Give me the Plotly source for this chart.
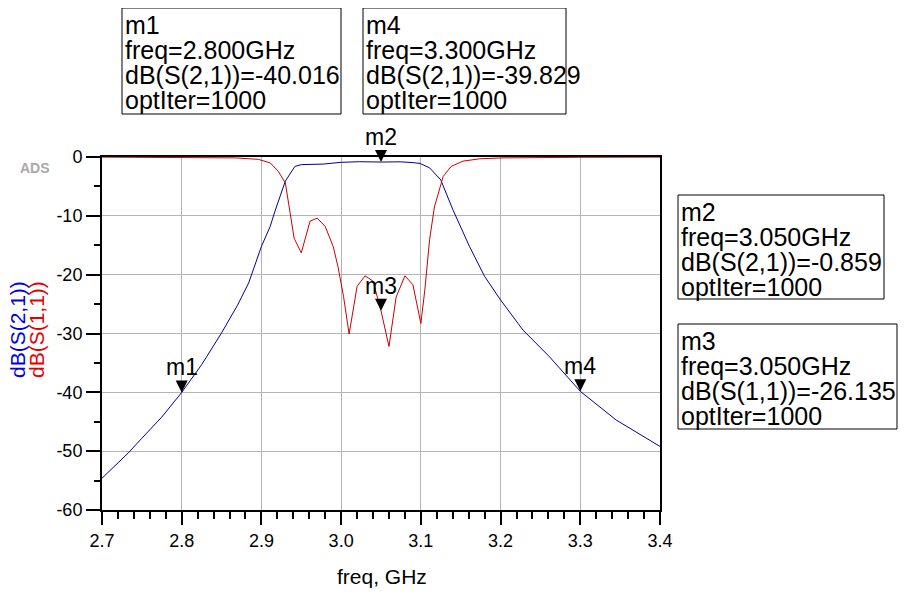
import plotly.graph_objects as go

# ---------------- data ----------------
freq_s21 = [2.700, 2.733, 2.750, 2.775, 2.800, 2.825, 2.850, 2.870, 2.884, 2.900, 2.911, 2.917,
            2.930, 2.942, 2.950, 2.978, 3.000, 3.023, 3.050, 3.074, 3.090, 3.099, 3.111,
            3.125, 3.140, 3.161, 3.180, 3.200, 3.228, 3.261, 3.300, 3.345, 3.400]
s21_db = [-54.6, -50.3, -47.8, -44.2, -40.016, -35.3, -29.9, -25.2, -21.4, -15.2, -11.8, -9.2,
          -4.1, -1.6, -1.3, -1.2, -0.9, -0.8, -0.859, -0.82, -0.95, -1.1, -1.85,
          -3.9, -8.9, -15.2, -20.3, -24.3, -29.4, -33.9, -39.829, -44.7, -49.2]

freq_s11 = [2.700, 2.800, 2.850, 2.867, 2.896, 2.911, 2.921, 2.930, 2.936, 2.941, 2.950,
            2.961, 2.970, 2.980, 2.990, 2.996, 3.003, 3.010, 3.020, 3.030, 3.040, 3.050,
            3.060, 3.069, 3.080, 3.090, 3.100, 3.105, 3.111, 3.117, 3.124, 3.128, 3.138,
            3.153, 3.174, 3.203, 3.300, 3.400]
s11_db = [-0.02, -0.05, -0.1, -0.15, -0.4, -1.0, -2.4, -4.4, -9.5, -13.8, -16.3,
          -10.9, -10.4, -11.8, -15.2, -18.6, -23.7, -30.1, -22.0, -20.2, -21.1, -26.135,
          -32.2, -23.8, -20.2, -21.7, -28.3, -22.6, -14.0, -8.5, -5.2, -3.3, -1.6,
          -0.7, -0.3, -0.15, -0.05, -0.02]

x_tick_vals = [2.7, 2.8, 2.9, 3.0, 3.1, 3.2, 3.3, 3.4]
x_tick_text = ["2.7", "2.8", "2.9", "3.0", "3.1", "3.2", "3.3", "3.4"]
y_tick_vals = [0, -10, -20, -30, -40, -50, -60]
y_tick_text = ["0", "-10", "-20", "-30", "-40", "-50", "-60"]

marker_names = ["m1", "m2", "m3", "m4"]
marker_freqs = [2.800, 3.050, 3.050, 3.300]
marker_vals = [-40.016, -0.859, -26.135, -39.829]
marker_params = ["dB(S(2,1))", "dB(S(2,1))", "dB(S(1,1))", "dB(S(2,1))"]
opt_iter = 1000

# ---------------- layout geometry (screen pixels; page has an 8px body offset) ----------------
W, H = 916, 599
OFF = 8
X_LEFT, X_RIGHT, Y_TOP, Y_BOTTOM = 102, 660, 157, 510   # plot frame on screen
ML, MT = X_LEFT - OFF, Y_TOP - OFF
MR, MB = W - (X_RIGHT - OFF), H - (Y_BOTTOM - OFF)
PW, PH = W - ML - MR, H - MT - MB

def px(xs):
    return (xs - OFF - ML) / PW

def py(ys):
    return 1 - (ys - OFF - MT) / PH

BLUE = "#00009c"
RED = "#cc0000"
FONT = "Liberation Sans, Arial, sans-serif"

fig = go.Figure()
fig.add_trace(go.Scatter(x=freq_s21, y=s21_db, mode="lines", line=dict(color=BLUE, width=1),
                         name="dB(S(2,1))", showlegend=False))
fig.add_trace(go.Scatter(x=freq_s11, y=s11_db, mode="lines", line=dict(color=RED, width=1),
                         name="dB(S(1,1))", showlegend=False))
fig.add_trace(go.Scatter(x=marker_freqs, y=marker_vals, mode="markers",
                         marker=dict(symbol="arrow-down", size=12, color="black",
                                     line=dict(width=0)),
                         cliponaxis=False, showlegend=False))

annotations = []
for n, f, v in zip(marker_names, marker_freqs, marker_vals):
    annotations.append(dict(x=f, y=v, xref="x", yref="y", text=n, showarrow=False,
                            xanchor="center", yanchor="middle",
                            yshift=25, font=dict(family=FONT, size=23, color="black")))

boxes = {"m1": (122, 8, 341, 114), "m4": (363, 8, 566, 114),
         "m2": (678, 195, 884, 299), "m3": (678, 324, 897, 429)}
shapes = []
for n, f, v, p in zip(marker_names, marker_freqs, marker_vals, marker_params):
    x0, y0, x1, y1 = boxes[n]
    shapes.append(dict(type="rect", xref="paper", yref="paper",
                       x0=px(x0), x1=px(x1), y0=py(y0), y1=py(y1),
                       line=dict(color="black", width=1), fillcolor="rgba(0,0,0,0)"))
    lines = [n, f"freq={f:.3f}GHz", f"{p}={v:.3f}", f"optIter={opt_iter}"]
    for i, t in enumerate(lines):
        annotations.append(dict(x=px(x0 + 1), y=py(y0 + 17 + 25 * i), xref="paper", yref="paper",
                                text=t, showarrow=False, xanchor="left", yanchor="middle",
                                font=dict(family=FONT, size=25, color="black")))

def label(xs, ys, text, size, color, angle=0):
    return dict(x=px(xs), y=py(ys), xref="paper", yref="paper", text=text,
                textangle=angle, showarrow=False, xanchor="center", yanchor="middle",
                font=dict(family=FONT, size=size, color=color))

annotations.append(label(17, 330, "dB(S(2,1))", 21, "#0000e6", -90))
annotations.append(label(36, 330, "dB(S(1,1))", 21, "#e60000", -90))
annotations.append(label(382, 576, "freq, GHz", 21, "black"))
annotations.append(label(35, 168, "<b>ADS</b>", 14, "#a8a8a8"))

fig.update_layout(
    width=W, height=H, margin=dict(l=ML, r=MR, t=MT, b=MB),
    paper_bgcolor="white", plot_bgcolor="white",
    annotations=annotations, shapes=shapes, showlegend=False,
    xaxis=dict(range=[2.7, 3.4], tickmode="array", tickvals=x_tick_vals, ticktext=x_tick_text,
               showgrid=True, gridcolor="#b4b4b4", gridwidth=1, zeroline=False,
               showline=True, linecolor="black", linewidth=2, mirror=True,
               ticks="outside", ticklen=13, tickwidth=1.5, tickcolor="black",
               tickfont=dict(family=FONT, size=18, color="black"), layer="below traces",
               minor=dict(dtick=0.02, tick0=2.7, ticks="outside", ticklen=7, tickwidth=1.5,
                          tickcolor="black", showgrid=False)),
    yaxis=dict(range=[-60, 0], tickmode="array", tickvals=y_tick_vals, ticktext=y_tick_text,
               showgrid=True, gridcolor="#b4b4b4", gridwidth=1, zeroline=False,
               showline=True, linecolor="black", linewidth=2, mirror=True,
               ticks="outside", ticklen=14, tickwidth=1.5, tickcolor="black",
               tickfont=dict(family=FONT, size=18, color="black"), layer="below traces",
               minor=dict(dtick=5, tick0=0, ticks="outside", ticklen=6, tickwidth=1.5,
                          tickcolor="black", showgrid=False)),
)

fig.write_html("out.html")
